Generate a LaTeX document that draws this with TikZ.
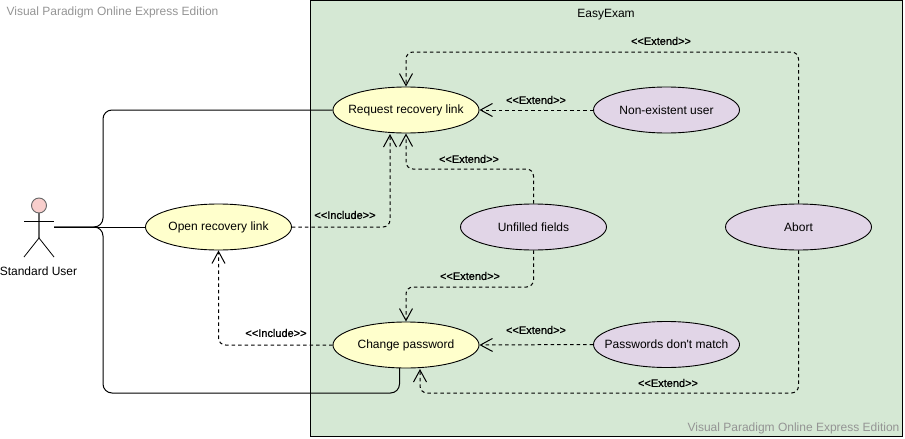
\documentclass[tikz,border=0pt]{standalone}
\usepackage{fontspec}
\setmainfont{Liberation Sans}
\newfontfamily\relfont[FakeBold=1]{Liberation Sans}
\usetikzlibrary{shapes.geometric,arrows.meta}
\definecolor{systemgreen}{HTML}{D5E8D4}
\definecolor{baseyellow}{HTML}{FFFFCC}
\definecolor{extpurple}{HTML}{E1D5E7}
\definecolor{actorpink}{HTML}{F8CECC}
\newcommand{\casetext}[1]{\makebox[0pt]{#1}}
\tikzset{
    usecase/.style={draw, ellipse, line width=0.9pt, minimum width=146pt, minimum height=46pt, inner sep=0pt, font=\fontsize{12}{14}\selectfont},
    basecase/.style={usecase, fill=baseyellow},
    extcase/.style={usecase, fill=extpurple},
    assoc/.style={line width=1pt, rounded corners=9pt},
    relation/.style={line width=1pt, dash pattern=on 3.5pt off 3pt, rounded corners=7pt, -{Straight Barb[length=12pt,width=13pt,line width=1pt]}},
    rellabel/.style={font=\relfont\fontsize{11}{13}\selectfont, inner sep=0pt},
    plainlabel/.style={font=\fontsize{12}{14}\selectfont, inner sep=0pt},
    watermark/.style={plainlabel, text=black!42}
}
\begin{document}
\begin{tikzpicture}[x=1pt, y=-1pt]
    \useasboundingbox (0,0) rectangle (905,439);

    % System
    \draw[fill=systemgreen, line width=1pt] (310.5,0.5) rectangle (902.5,436);
    \node[plainlabel] (system) at (606,15) {EasyExam};

    % Watermarks
    \node[watermark] (marktop) at (112.5,12) {Visual Paradigm Online Express Edition};
    \node[watermark] (markbottom) at (793.5,428) {Visual Paradigm Online Express Edition};

    % Actor
    \node[draw=black!60, fill=actorpink, circle, minimum size=15pt, inner sep=0pt, line width=0.9pt] (head) at (39,205.5) {};
    \coordinate (hip) at (39,238);
    \coordinate (actorout) at (54,227);
    \draw[black!60, line width=1.6pt] (head) -- (hip);
    \draw[line width=0.8pt] (24,221.5) -- (54,221.5);
    \draw[line width=0.8pt] (24,257) -- (hip) -- (54,257);
    \node[plainlabel] (actorname) at (38.5,271) {Standard User};

    % Use cases
    \node[basecase] (request) at (406,110) {\casetext{Request recovery link}};
    \node[basecase] (open) at (218.5,227) {\casetext{Open recovery link}};
    \node[basecase] (change) at (406,345) {\casetext{Change password}};
    \node[extcase] (nouser) at (666.5,110) {\casetext{Non-existent user}};
    \node[extcase] (unfilled) at (533.5,227) {\casetext{Unfilled fields}};
    \node[extcase] (abort) at (798.5,227) {\casetext{Abort}};
    \node[extcase] (nomatch) at (666.5,344.5) {\casetext{Passwords don\textquotesingle t match}};

    % Associations
    \draw[assoc] (actorout) -- (open.west);
    \draw[assoc] (actorout) -- (103,227) -- (103,110) -- (request.west);
    \draw[assoc] (actorout) -- (103,227) -- (103,393) -- (399.5,393) -- (399.5,368);

    % Extend and include
    \coordinate (requestin) at (390,134);
    \coordinate (changein) at (420,369);
    \draw[relation] (abort.north) -- (798.5,52) -- (406,52) -- (request.north);
    \draw[relation] (nouser.west) -- (request.east);
    \draw[relation] (unfilled.north) -- (533.5,169) -- (406,169) -- (request.south);
    \draw[relation] (open.east) -- (390,227) -- (requestin);
    \draw[relation] (unfilled.south) -- (533.5,287) -- (406,287) -- (change.north);
    \draw[relation] (nomatch.west) -- (change.east);
    \draw[relation] (abort.south) -- (798.5,393) -- (420,393) -- (changein);
    \draw[relation] (change.west) -- (218.5,345) -- (open.south);

    % Labels
    \node[rellabel] (extabort) at (661,41) {<<Extend>>};
    \node[rellabel] (extnouser) at (536,100) {<<Extend>>};
    \node[rellabel] (extfields) at (469,159) {<<Extend>>};
    \node[rellabel] (increquest) at (345,215) {<<Include>>};
    \node[rellabel] (extchange) at (470,276) {<<Extend>>};
    \node[rellabel] (extmatch) at (536,330) {<<Extend>>};
    \node[rellabel] (incopen) at (276,333) {<<Include>>};
    \node[rellabel] (extbottom) at (668,383) {<<Extend>>};
\end{tikzpicture}
\end{document}
